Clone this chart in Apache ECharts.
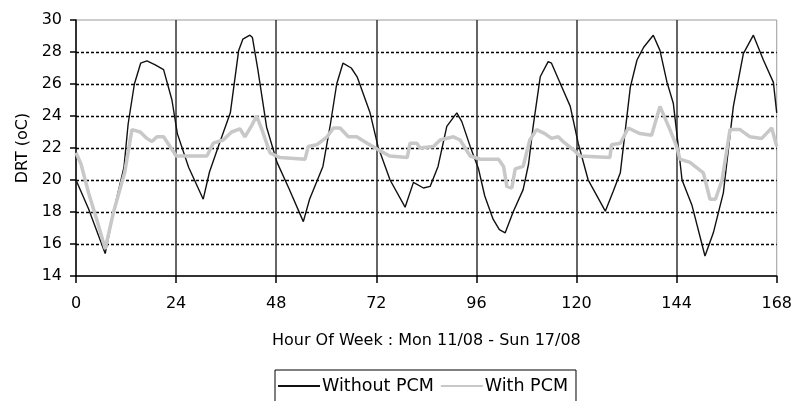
<!DOCTYPE html>
<html>
<head>
<meta charset="utf-8">
<script src="https://cdn.jsdelivr.net/npm/echarts@6/dist/echarts.min.js"></script>
<style>html,body{margin:0;padding:0;background:#fff;}#c{width:795px;height:401px;}</style>
</head>
<body>
<div id="c"></div>
<script>
var withoutHours = [0,3,7,9,11.5,12.5,14,15.5,17,19,21,23,24.3,27,30.5,32,34,37,39,40,41.7,42.3,43.6,45.7,48.2,51,54.5,56,59.2,61,62.5,64,66,67.4,70.5,72.4,75.3,78.9,80.9,83.3,84.9,86.8,88.9,91.3,92.5,94.5,96.5,98,100,101.5,102.9,104.8,107.2,108.5,109.6,111.3,113.2,114,116.5,118.5,120.4,122.8,124.5,126.9,128.8,130.5,132.9,134.5,136.1,138.4,140,141.7,143.2,144.4,145.3,147.7,150.8,152.8,155.2,157.6,160,162.4,164.8,167.2,168];
var withoutValues = [20.0,18.2,15.4,18.0,20.8,23.5,26.0,27.3,27.45,27.2,26.9,25.0,22.9,20.8,18.8,20.5,22.0,24.2,28.1,28.8,29.05,28.9,26.9,23.3,21.1,19.5,17.4,18.8,20.85,23.5,26.0,27.3,27.0,26.45,24.2,22.1,20.0,18.3,19.85,19.5,19.6,20.85,23.35,24.2,23.65,22.1,20.7,19.0,17.55,16.9,16.7,18.0,19.4,21.0,23.35,26.45,27.4,27.3,25.8,24.6,22.3,20.0,19.2,18.05,19.3,20.45,25.8,27.5,28.3,29.05,28.1,26.1,24.8,22.1,20.0,18.4,15.25,16.7,19.2,24.6,27.9,29.05,27.5,26.1,24.2];
var withHours = [0,1.2,3,5,7,9,11.7,13.4,15.4,17,18.2,19.4,21,23.3,24,31.4,32.9,35.3,37.3,39.3,40.5,42.1,43.3,44.5,46.5,48.9,54.9,55.7,57.7,60.2,61.7,63.3,65.3,67.3,69.8,72.4,75.2,79.4,80.1,81.7,82.5,85.7,87.3,90.5,92.1,94.5,96.9,101.3,102.5,103.3,104.5,105.3,107.2,108.8,110.4,112.4,114,115.6,116.8,119.2,120.8,128,128.4,130.5,132.4,135.2,138,140,142.4,144,144.8,147.2,150.4,152,153.3,154.9,156.8,159.2,161.6,164.4,166.8,168];
var withValues = [21.7,21.0,19.2,17.5,15.7,18.0,20.5,23.15,23.0,22.6,22.4,22.7,22.7,21.8,21.5,21.5,22.3,22.5,23.0,23.2,22.7,23.4,24.0,23.2,21.7,21.4,21.3,22.1,22.2,22.7,23.25,23.25,22.7,22.7,22.3,21.9,21.5,21.4,22.3,22.3,22.0,22.1,22.5,22.7,22.5,21.5,21.3,21.3,20.85,19.6,19.5,20.7,20.85,22.5,23.15,22.9,22.6,22.7,22.4,21.9,21.5,21.4,22.2,22.3,23.25,22.9,22.8,24.6,23.15,22.1,21.3,21.1,20.45,18.8,18.8,20.0,23.15,23.15,22.7,22.6,23.25,22.1];
var seriesNames = ['Without PCM','With PCM'];
var xTicks = [0,24,48,72,96,120,144,168];
var yTicks = [14,16,18,20,22,24,26,28,30];
var xTitle = 'Hour Of Week : Mon 11/08 - Sun 17/08';
var yTitle = 'DRT (oC)';

function pairs(h, v){ return h.map(function(x,i){ return [x, v[i]]; }); }
var font = 'DejaVu Sans';
var chart = echarts.init(document.getElementById('c'), null, {renderer:'canvas'});
chart.setOption({
  animation:false,
  backgroundColor:'#fff',
  grid:{left:76,right:17,top:20,bottom:125,show:true,borderColor:'#9a9a9a',borderWidth:1,backgroundColor:'transparent'},
  legend:{
    left:275, top:370,
    data:seriesNames.map(function(n){ return {name:n, icon:'rect'}; }),
    itemWidth:42, itemHeight:2, itemGap:7,
    borderColor:'#000', borderWidth:1,
    padding:[7,8,20,3],
    textStyle:{fontFamily:font,fontSize:17.5,color:'#000',padding:[0,0,0,-3]}
  },
  xAxis:{
    type:'value', min:0, max:168, interval:24,
    name:xTitle, nameLocation:'middle', nameGap:57,
    nameTextStyle:{fontFamily:font,fontSize:16,color:'#000'},
    axisLine:{lineStyle:{color:'#000',width:1.5}},
    axisTick:{show:true,length:7,lineStyle:{color:'#000',width:1.5}},
    axisLabel:{fontFamily:font,fontSize:16,color:'#000',margin:20},
    splitLine:{show:true,lineStyle:{type:'solid',width:1.5,color:['transparent','#333','#333','#333','#333','#333','#333','transparent']}}
  },
  yAxis:{
    type:'value', min:14, max:30, interval:2,
    name:yTitle, nameLocation:'middle', nameGap:44,
    nameTextStyle:{fontFamily:font,fontSize:16,color:'#000'},
    axisLine:{show:true,lineStyle:{color:'#000',width:1.5}},
    axisTick:{show:true,length:6,lineStyle:{color:'#000',width:1.5}},
    axisLabel:{fontFamily:font,fontSize:16,color:'#000',margin:14},
    splitLine:{show:true,lineStyle:{type:[3,2],width:1.3,color:['transparent','#000','#000','#000','#000','#000','#000','#000','transparent']}}
  },
  series:[
    {name:seriesNames[0],type:'line',data:pairs(withoutHours,withoutValues),symbol:'none',lineStyle:{color:'#111',width:1.4},itemStyle:{color:'#111'}},
    {name:seriesNames[1],type:'line',data:pairs(withHours,withValues),symbol:'none',lineStyle:{color:'#c8c8c8',width:3.5},itemStyle:{color:'#c8c8c8'}}
  ]
});
</script>
</body>
</html>
